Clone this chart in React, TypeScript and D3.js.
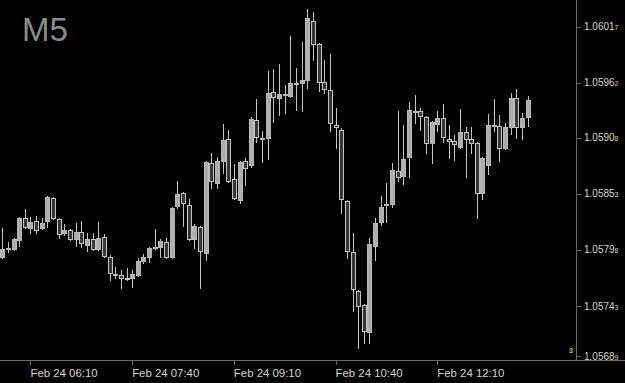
import React from "react";
import * as d3 from "d3";

// 5-minute EURUSD-like candles, Feb 24, first bar 05:45
const startTime = "2023-02-24T05:45:00";
const stepMinutes = 5;

const opens = [
  1.05791, 1.05799, 1.05799, 1.05808, 1.05829, 1.05819, 1.05826, 1.05819, 1.05826, 1.05849,
  1.05828, 1.05815, 1.05817, 1.05809, 1.05816, 1.05803, 1.05809, 1.05799, 1.05811, 1.05791,
  1.05773, 1.05773, 1.05770, 1.05770, 1.05773, 1.05787, 1.05791, 1.05800, 1.05801, 1.05806,
  1.05791, 1.05841, 1.05854, 1.05842, 1.05809, 1.05820, 1.05795, 1.05883, 1.05864, 1.05885,
  1.05907, 1.05867, 1.05847, 1.05885, 1.05881, 1.05925, 1.05908, 1.05908, 1.05953, 1.05947,
  1.05950, 1.05949, 1.05961, 1.05962, 1.05965, 1.06022, 1.06000, 1.05963, 1.05955, 1.05920,
  1.05916, 1.05846, 1.05796, 1.05758, 1.05744, 1.05717, 1.05802, 1.05825, 1.05842, 1.05843,
  1.05875, 1.05870, 1.05889, 1.05934, 1.05934, 1.05928, 1.05903, 1.05921, 1.05927, 1.05907,
  1.05905, 1.05899, 1.05914, 1.05907, 1.05903, 1.05854, 1.05881, 1.05919, 1.05919, 1.05898,
  1.05918, 1.05947, 1.05918, 1.05928,
];
const highs = [
  1.05819, 1.05806, 1.05810, 1.05830, 1.05838, 1.05830, 1.05831, 1.05829, 1.05851, 1.05850,
  1.05829, 1.05823, 1.05818, 1.05824, 1.05826, 1.05815, 1.05815, 1.05825, 1.05814, 1.05793,
  1.05781, 1.05778, 1.05780, 1.05778, 1.05790, 1.05794, 1.05801, 1.05818, 1.05809, 1.05810,
  1.05840, 1.05866, 1.05855, 1.05848, 1.05823, 1.05821, 1.05885, 1.05893, 1.05889, 1.05921,
  1.05916, 1.05882, 1.05885, 1.05888, 1.05928, 1.05946, 1.05915, 1.05973, 1.05975, 1.05980,
  1.05960, 1.06008, 1.05976, 1.06002, 1.06034, 1.06031, 1.06001, 1.05984, 1.05990, 1.05937,
  1.05917, 1.05847, 1.05815, 1.05759, 1.05745, 1.05810, 1.05829, 1.05851, 1.05864, 1.05883,
  1.05934, 1.05920, 1.05943, 1.05950, 1.05937, 1.05929, 1.05924, 1.05934, 1.05941, 1.05920,
  1.05911, 1.05936, 1.05918, 1.05918, 1.05904, 1.05889, 1.05931, 1.05946, 1.05930, 1.05922,
  1.05952, 1.05956, 1.05932, 1.05949,
];
const lows = [
  1.05790, 1.05796, 1.05798, 1.05802, 1.05819, 1.05815, 1.05815, 1.05818, 1.05820, 1.05828,
  1.05810, 1.05813, 1.05808, 1.05802, 1.05801, 1.05797, 1.05798, 1.05798, 1.05791, 1.05768,
  1.05770, 1.05761, 1.05768, 1.05762, 1.05772, 1.05785, 1.05786, 1.05799, 1.05791, 1.05790,
  1.05790, 1.05839, 1.05821, 1.05808, 1.05800, 1.05761, 1.05788, 1.05859, 1.05859, 1.05873,
  1.05865, 1.05848, 1.05844, 1.05862, 1.05879, 1.05904, 1.05884, 1.05887, 1.05923, 1.05930,
  1.05932, 1.05948, 1.05935, 1.05934, 1.05957, 1.05984, 1.05954, 1.05952, 1.05915, 1.05898,
  1.05834, 1.05790, 1.05738, 1.05702, 1.05707, 1.05707, 1.05788, 1.05822, 1.05825, 1.05840,
  1.05866, 1.05863, 1.05869, 1.05922, 1.05916, 1.05893, 1.05883, 1.05915, 1.05904, 1.05888,
  1.05886, 1.05898, 1.05869, 1.05893, 1.05829, 1.05848, 1.05872, 1.05915, 1.05885, 1.05897,
  1.05912, 1.05908, 1.05907, 1.05919,
];
const closes = [
  1.05799, 1.05800, 1.05809, 1.05829, 1.05820, 1.05825, 1.05817, 1.05824, 1.05850, 1.05829,
  1.05814, 1.05817, 1.05809, 1.05816, 1.05805, 1.05809, 1.05799, 1.05810, 1.05792, 1.05775,
  1.05774, 1.05770, 1.05769, 1.05774, 1.05787, 1.05791, 1.05800, 1.05801, 1.05807, 1.05791,
  1.05839, 1.05853, 1.05844, 1.05809, 1.05821, 1.05797, 1.05884, 1.05866, 1.05885, 1.05906,
  1.05866, 1.05849, 1.05884, 1.05878, 1.05926, 1.05909, 1.05908, 1.05952, 1.05948, 1.05951,
  1.05951, 1.05962, 1.05962, 1.05965, 1.06025, 1.06000, 1.05963, 1.05956, 1.05922, 1.05918,
  1.05848, 1.05797, 1.05760, 1.05743, 1.05718, 1.05804, 1.05824, 1.05840, 1.05843, 1.05876,
  1.05869, 1.05887, 1.05935, 1.05934, 1.05929, 1.05903, 1.05923, 1.05927, 1.05909, 1.05905,
  1.05902, 1.05914, 1.05907, 1.05903, 1.05854, 1.05888, 1.05920, 1.05920, 1.05898, 1.05918,
  1.05947, 1.05918, 1.05927, 1.05945,
];

const priceTicks = [1.06017, 1.05962, 1.05908, 1.05853, 1.05798, 1.05743, 1.05689];
const timeTicks = ["2023-02-24T06:10:00", "2023-02-24T07:40:00", "2023-02-24T09:10:00", "2023-02-24T10:40:00", "2023-02-24T12:10:00"];
const periodLabel = "M5";

const W = 625;
const H = 383;
const plotRight = 576;
const plotBottom = 360;

export default function App() {
  const t0 = new Date(startTime);
  const bars = opens.map((o, i) => ({
    t: new Date(t0.getTime() + i * stepMinutes * 60000),
    o,
    h: highs[i],
    l: lows[i],
    c: closes[i],
  }));
  const tLast = bars[bars.length - 1].t;

  const x = d3.scaleTime().domain([t0, tLast]).range([2.2, 527.7]);
  const y = d3.scaleLinear().domain([1.0569, 1.06043]).range([plotBottom, 0]);
  const fmt = d3.timeFormat("%b %d %H:%M");
  const bodyW = 4;

  const labelFont = "'Liberation Sans', Arial, sans-serif";

  return (
    <svg
      width={W}
      height={H}
      style={{ position: "fixed", left: 0, top: 0, background: "#000", display: "block" }}
    >
      <rect x={0} y={0} width={W} height={H} fill="#000" />
      <text x={22} y={41} fontFamily={labelFont} fontSize={33} fill="#8c8c8c">
        {periodLabel}
      </text>

      <g shapeRendering="crispEdges">
        {bars.map((b, i) => {
          const cx = Math.round(x(b.t));
          const bull = b.c >= b.o;
          const top = Math.round(y(Math.max(b.o, b.c)));
          const bot = Math.round(y(Math.min(b.o, b.c)));
          return (
            <g key={i}>
              <line
                x1={cx + 0.5}
                x2={cx + 0.5}
                y1={Math.round(y(b.h))}
                y2={Math.round(y(b.l)) + 1}
                stroke="#c4c4c4"
                strokeWidth={1}
              />
              <rect
                x={cx - bodyW / 2 + 0.5}
                y={top + 0.5}
                width={bodyW}
                height={Math.max(bot - top, 1)}
                fill={bull ? "#adadad" : "#363636"}
                stroke={bull ? "#b8b8b8" : "#c4c4c4"}
                strokeWidth={1}
              />
            </g>
          );
        })}
      </g>

      {/* axes */}
      <g shapeRendering="crispEdges">
        <line x1={plotRight + 0.5} x2={plotRight + 0.5} y1={0} y2={plotBottom} stroke="#6a6a6a" />
        <line x1={0} x2={W} y1={plotBottom + 0.5} y2={plotBottom + 0.5} stroke="#6a6a6a" />
        {priceTicks.map((p, i) => {
          const ty = Math.min(Math.round(y(p)), 356);
          return (
            <line key={i} x1={plotRight} x2={plotRight + 5} y1={ty + 0.5} y2={ty + 0.5} stroke="#6a6a6a" />
          );
        })}
        {timeTicks.map((s, i) => {
          const tx = Math.round(x(new Date(s)));
          return <line key={i} x1={tx + 0.5} x2={tx + 0.5} y1={plotBottom} y2={plotBottom + 5} stroke="#6a6a6a" />;
        })}
      </g>

      {priceTicks.map((p, i) => {
        const ty = Math.min(y(p), 356);
        const s = p.toFixed(5);
        return (
          <text
            key={i}
            x={584}
            y={ty + 3.6}
            fontFamily={labelFont}
            fontSize={10}
            fill="#d6d6c4"
          >
            {s.slice(0, -1)}
            <tspan fontSize={7}>{s.slice(-1)}</tspan>
          </text>
        );
      })}

      {timeTicks.map((s, i) => {
        const tx = x(new Date(s));
        return (
          <text key={i} x={tx} y={377} fontFamily={labelFont} fontSize={11.4} fill="#d6d6c4">
            {fmt(new Date(s))}
          </text>
        );
      })}

      <text x={569} y={353} fontFamily={labelFont} fontSize={7} fontWeight="bold" fill="#e8c000">
        3
      </text>
    </svg>
  );
}
